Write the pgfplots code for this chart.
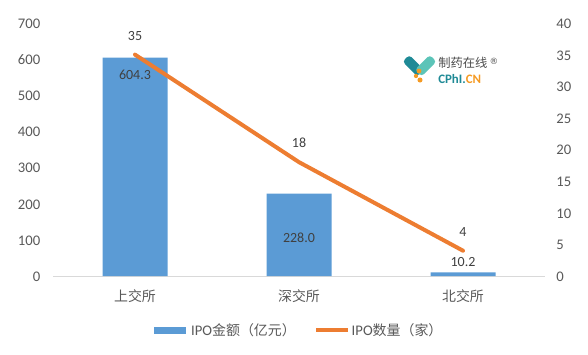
\documentclass[border=0pt]{standalone}
\usepackage{pgfplots}
\pgfplotsset{compat=1.18}
\usepackage{fontspec}
\setmainfont{Carlito}
\newfontfamily\cjk{Noto Sans CJK SC}[Scale=0.95]
\newfontfamily\djv{DejaVu Sans}
\definecolor{barblue}{HTML}{5B9BD5}
\definecolor{lineor}{HTML}{ED7D31}
\definecolor{tick}{HTML}{595959}
\definecolor{lab}{HTML}{404040}
\definecolor{tealA}{HTML}{1F8A96}
\definecolor{tealB}{HTML}{5CC4B8}
\definecolor{orB}{HTML}{F59A23}
\begin{document}
\begin{tikzpicture}[x=0.75pt,y=0.75pt]
\path[use as bounding box] (0,0) rectangle (588,354);
\begin{axis}[
  at={(39.75pt,58.5pt)}, anchor=south west,
  scale only axis, width=369pt, height=189.75pt,
  xmin=-0.5, xmax=2.5, ymin=0, ymax=700,
  ytick={0,100,...,700}, xtick={0,1,2},
  xticklabels={{\cjk 上交所},{\cjk 深交所},{\cjk 北交所}},
  tick style={draw=none},
  axis line style={draw=none},
  axis x line*=bottom, axis y line*=left,
  ticklabel style={font=\fontsize{11}{13}\selectfont, text=tick},
  /pgf/number format/assume math mode=true,
  /pgf/number format/1000 sep={},
  x tick label style={yshift=-6.5pt},
  y tick label style={xshift=-6pt, yshift=-0.5pt},
  clip=false,
  legend style={at={(0.4975,-0.175)}, anchor=north, draw=none, fill=none,
    font=\fontsize{11}{13}\selectfont, text=tick,
    legend columns=2, /tikz/every even column/.style={column sep=12pt},
    /tikz/every odd column/.style={column sep=-1pt},
    inner sep=0pt},
  legend image code/.code={\draw[#1] (0pt,0pt) -- (24pt,0pt);},
]
\draw[draw=black!15, line width=0.6pt] (rel axis cs:0,0) -- (rel axis cs:1,0);
\addplot[ybar, bar width=48.75pt, fill=barblue, draw=none, forget plot] coordinates {(0,604.3) (1,228.0) (2,10.2)};
\addlegendimage{line width=5.5pt, barblue}
\addlegendentry{IPO{\cjk 金额（亿元）}}
\addlegendimage{line width=3pt, lineor}
\addlegendentry{IPO{\cjk 数量（家）}}
\node[font=\fontsize{10.5}{12}\selectfont,text=lab] at (axis cs:0,556) {604.3};
\node[font=\fontsize{10.5}{12}\selectfont,text=lab] at (axis cs:1,105) {228.0};
\node[font=\fontsize{10.5}{12}\selectfont,text=lab] at (axis cs:2,40) {10.2};
\end{axis}
\begin{axis}[
  at={(39.75pt,58.5pt)}, anchor=south west,
  scale only axis, width=369pt, height=189.75pt,
  xmin=-0.5, xmax=2.5, ymin=0, ymax=40,
  ytick={0,5,...,40}, xtick=\empty,
  axis x line=none, axis y line*=right,
  axis line style={draw=none},
  tick style={draw=none},
  ticklabel style={font=\fontsize{11}{13}\selectfont, text=tick},
  /pgf/number format/assume math mode=true,
  y tick label style={xshift=5pt, yshift=-0.5pt},
  clip=false,
]
\addplot[lineor, line width=3pt, line cap=round, line join=round,
  nodes near coords, point meta=explicit symbolic,
  every node near coord/.append style={font=\fontsize{10.5}{12}\selectfont, text=lab, anchor=south, yshift=6pt}]
  table[meta=l] {
  x y l
  0 35 35
  1 18 18
  2 4 4
};
\end{axis}
% logo
\begin{scope}[shift={(0,354)},y=-0.75pt]
\fill[tealA, rotate around={-45:(413.5,65.5)}, rounded corners=2.5pt] (403,61) rectangle (424,70.5);
\fill[tealB, rotate around={45:(425.5,65.5)}, rounded corners=2.5pt] (415,61) rectangle (436,70.5);
\fill[orB] (419,71) circle (1.8pt);
\fill[orB] (416,76) circle (1.6pt);
\fill[orB] (420,80) circle (1.9pt);
\node[anchor=west, inner sep=0pt, font=\cjk\fontsize{9.7}{11}\selectfont, text=black!70] at (438,63) {制药在线};
\node[anchor=center, inner sep=0pt, font=\djv\fontsize{6.5}{8}\selectfont, text=black!70] at (494,61.5) {®};
\node[anchor=west, inner sep=0pt, font=\bfseries\fontsize{9.7}{11}\selectfont] at (438,79) {\textcolor{tealA}{CPhI.}\textcolor{orB}{CN}};
\end{scope}
\end{tikzpicture}
\end{document}
